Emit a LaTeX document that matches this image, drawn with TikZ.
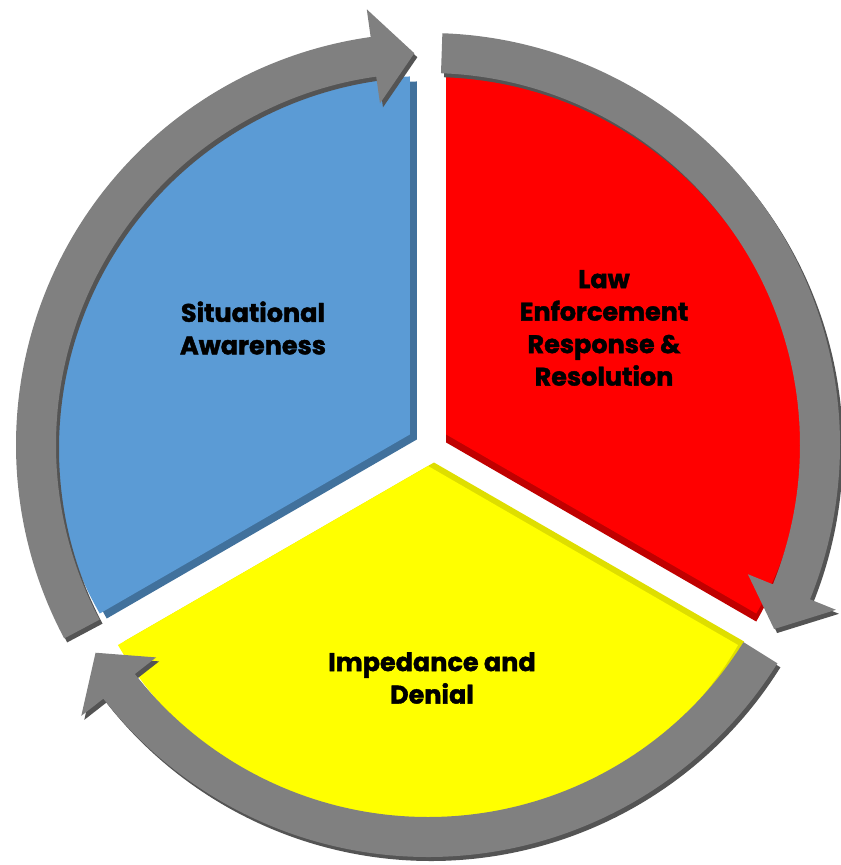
\documentclass[tikz,border=0pt]{standalone}
\usepackage{fontspec}
\setmainfont{Poppins}[BoldFeatures={FakeBold=1.6}]

\definecolor{awareblue}{RGB}{91,155,213}
\definecolor{awarebluedark}{RGB}{65,113,156}
\definecolor{lawred}{RGB}{255,0,0}
\definecolor{lawreddark}{RGB}{192,0,0}
\definecolor{denyellow}{RGB}{255,255,0}
\definecolor{denyellowdark}{RGB}{222,222,0}
\definecolor{ringface}{RGB}{128,128,128}
\definecolor{ringdark}{RGB}{84,84,84}

% one third of the disc, #1 = angle of its first edge
\newcommand\wedgepath[1]{({#1+60}:21) -- ++(#1:358)
  arc[start angle=#1, end angle=#1+120, radius=358] -- cycle}
% curved arrow round the disc, #1 = angle of its tail
\newcommand\ringarrow[1]{(#1:372) arc[start angle=#1, end angle=#1-110, radius=372]
  -- ({#1-110}:345) -- ({#1-116}:392) -- ({#1-110}:440) -- ({#1-110}:412)
  arc[start angle=#1-110, end angle=#1, radius=412] -- cycle}

\tikzset{
  label/.style={align=center, text=black, font=\fontsize{14.5}{18.5}\selectfont\bfseries},
}

\begin{document}
\begin{tikzpicture}[x=0.02cm, y=0.02cm]
\useasboundingbox (-428,-420) rectangle (412,445);

\fill[awarebluedark, shift={(7,-5)}] \wedgepath{90};
\fill[awareblue] \wedgepath{90};
\fill[lawreddark, shift={(0,-8)}] \wedgepath{-30};
\fill[lawred] \wedgepath{-30};
\fill[denyellowdark, shift={(6,3.5)}] \wedgepath{210};
\fill[denyellow] \wedgepath{210};

% arrows
\foreach \tail in {208, 88, -32} {
  \fill[ringdark, shift={(3,-4)}] \ringarrow{\tail};
  \fill[ringface] \ringarrow{\tail};
}

\node[label] (aware) at (-175,117) {Situational\\Awareness};
\node[label] (law) at (176,117) {Law\\Enforcement\\Response \&\\Resolution};
\node[label] (deny) at (4,-233) {Impedance and\\Denial};
\end{tikzpicture}
\end{document}
